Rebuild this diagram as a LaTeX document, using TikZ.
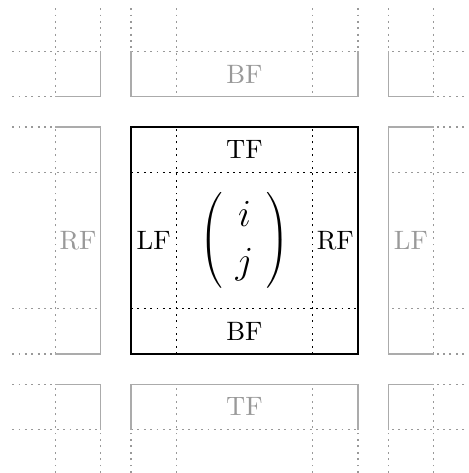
\documentclass[tikz,border=0pt]{standalone}
\usepackage{tikz}

\begin{document}
\begin{tikzpicture}[
  cellline/.style={line width=0.5pt},
  guideline/.style={line width=0.5pt, dash pattern=on 0.7pt off 1.7pt},
  ghostline/.style={line width=0.5pt, black!33},
  ghostguide/.style={line width=0.5pt, dash pattern=on 0.7pt off 1.7pt, black!40},
  facelabel/.style={font=\normalsize},
  ghostlabel/.style={font=\normalsize, text=black!40}]
\useasboundingbox (-1.731,-1.573) rectangle (4.467,4.678);
% neighbouring cells, dotted parts
\draw[ghostguide] (-1.570,0.600) -- (-0.400,0.600);
\draw[ghostguide] (-1.570,2.400) -- (-0.400,2.400);
\draw[ghostguide] (-1.000,0.000) -- (-1.000,3.000);
\draw[ghostguide] (-1.570,0.000) -- (-1.000,0.000);
\draw[ghostguide] (-1.570,3.000) -- (-1.000,3.000);
\draw[ghostguide] (4.570,0.600) -- (3.400,0.600);
\draw[ghostguide] (4.570,2.400) -- (3.400,2.400);
\draw[ghostguide] (4.000,0.000) -- (4.000,3.000);
\draw[ghostguide] (4.570,0.000) -- (4.000,0.000);
\draw[ghostguide] (4.570,3.000) -- (4.000,3.000);
\draw[ghostguide] (0.600,4.570) -- (0.600,3.400);
\draw[ghostguide] (2.400,4.570) -- (2.400,3.400);
\draw[ghostguide] (0.000,4.000) -- (3.000,4.000);
\draw[ghostguide] (0.000,4.570) -- (0.000,4.000);
\draw[ghostguide] (3.000,4.570) -- (3.000,4.000);
\draw[ghostguide] (0.600,-1.570) -- (0.600,-0.400);
\draw[ghostguide] (2.400,-1.570) -- (2.400,-0.400);
\draw[ghostguide] (0.000,-1.000) -- (3.000,-1.000);
\draw[ghostguide] (0.000,-1.570) -- (0.000,-1.000);
\draw[ghostguide] (3.000,-1.570) -- (3.000,-1.000);
% corners
\draw[ghostguide] (-1.000,4.570) -- (-1.000,3.400);
\draw[ghostguide] (-1.570,4.000) -- (-0.400,4.000);
\draw[ghostguide] (-0.400,4.570) -- (-0.400,4.000);
\draw[ghostguide] (-1.570,3.400) -- (-1.000,3.400);
\draw[ghostguide] (4.000,4.570) -- (4.000,3.400);
\draw[ghostguide] (4.570,4.000) -- (3.400,4.000);
\draw[ghostguide] (3.400,4.570) -- (3.400,4.000);
\draw[ghostguide] (4.570,3.400) -- (4.000,3.400);
\draw[ghostguide] (-1.000,-1.570) -- (-1.000,-0.400);
\draw[ghostguide] (-1.570,-1.000) -- (-0.400,-1.000);
\draw[ghostguide] (-0.400,-1.570) -- (-0.400,-1.000);
\draw[ghostguide] (-1.570,-0.400) -- (-1.000,-0.400);
\draw[ghostguide] (4.000,-1.570) -- (4.000,-0.400);
\draw[ghostguide] (4.570,-1.000) -- (3.400,-1.000);
\draw[ghostguide] (3.400,-1.570) -- (3.400,-1.000);
\draw[ghostguide] (4.570,-0.400) -- (4.000,-0.400);
% neighbouring cells, solid parts
\draw[ghostline] (-1.000,0.000) -- (-0.400,0.000) -- (-0.400,3.000) -- (-1.000,3.000);
\draw[ghostline] (4.000,0.000) -- (3.400,0.000) -- (3.400,3.000) -- (4.000,3.000);
\draw[ghostline] (0.000,4.000) -- (0.000,3.400) -- (3.000,3.400) -- (3.000,4.000);
\draw[ghostline] (0.000,-1.000) -- (0.000,-0.400) -- (3.000,-0.400) -- (3.000,-1.000);
\draw[ghostline] (-1.000,3.400) -- (-0.400,3.400) -- (-0.400,4.000);
\draw[ghostline] (4.000,3.400) -- (3.400,3.400) -- (3.400,4.000);
\draw[ghostline] (-1.000,-0.400) -- (-0.400,-0.400) -- (-0.400,-1.000);
\draw[ghostline] (4.000,-0.400) -- (3.400,-0.400) -- (3.400,-1.000);
\node[ghostlabel] (ghostRF) at (-0.700,1.500) {RF};
\node[ghostlabel] (ghostLF) at (3.700,1.500) {LF};
\node[ghostlabel] (ghostBF) at (1.500,3.700) {BF};
\node[ghostlabel] (ghostTF) at (1.500,-0.700) {TF};
% the cell itself
\draw[cellline] (0.000,0.000) rectangle (3.000,3.000);
\draw[guideline] (0.600,0.000) -- (0.600,3.000);
\draw[guideline] (2.400,0.000) -- (2.400,3.000);
\draw[guideline] (0.000,0.600) -- (3.000,0.600);
\draw[guideline] (0.000,2.400) -- (3.000,2.400);
\node[facelabel] (TF) at (1.500,2.700) {TF};
\node[facelabel] (BF) at (1.500,0.300) {BF};
\node[facelabel] (LF) at (0.300,1.500) {LF};
\node[facelabel] (RF) at (2.700,1.500) {RF};
\node[font=\Large] (ij) at (1.500,1.500) {$\left(\begin{array}{c} i \\ j \end{array}\right)$};
\end{tikzpicture}
\end{document}
